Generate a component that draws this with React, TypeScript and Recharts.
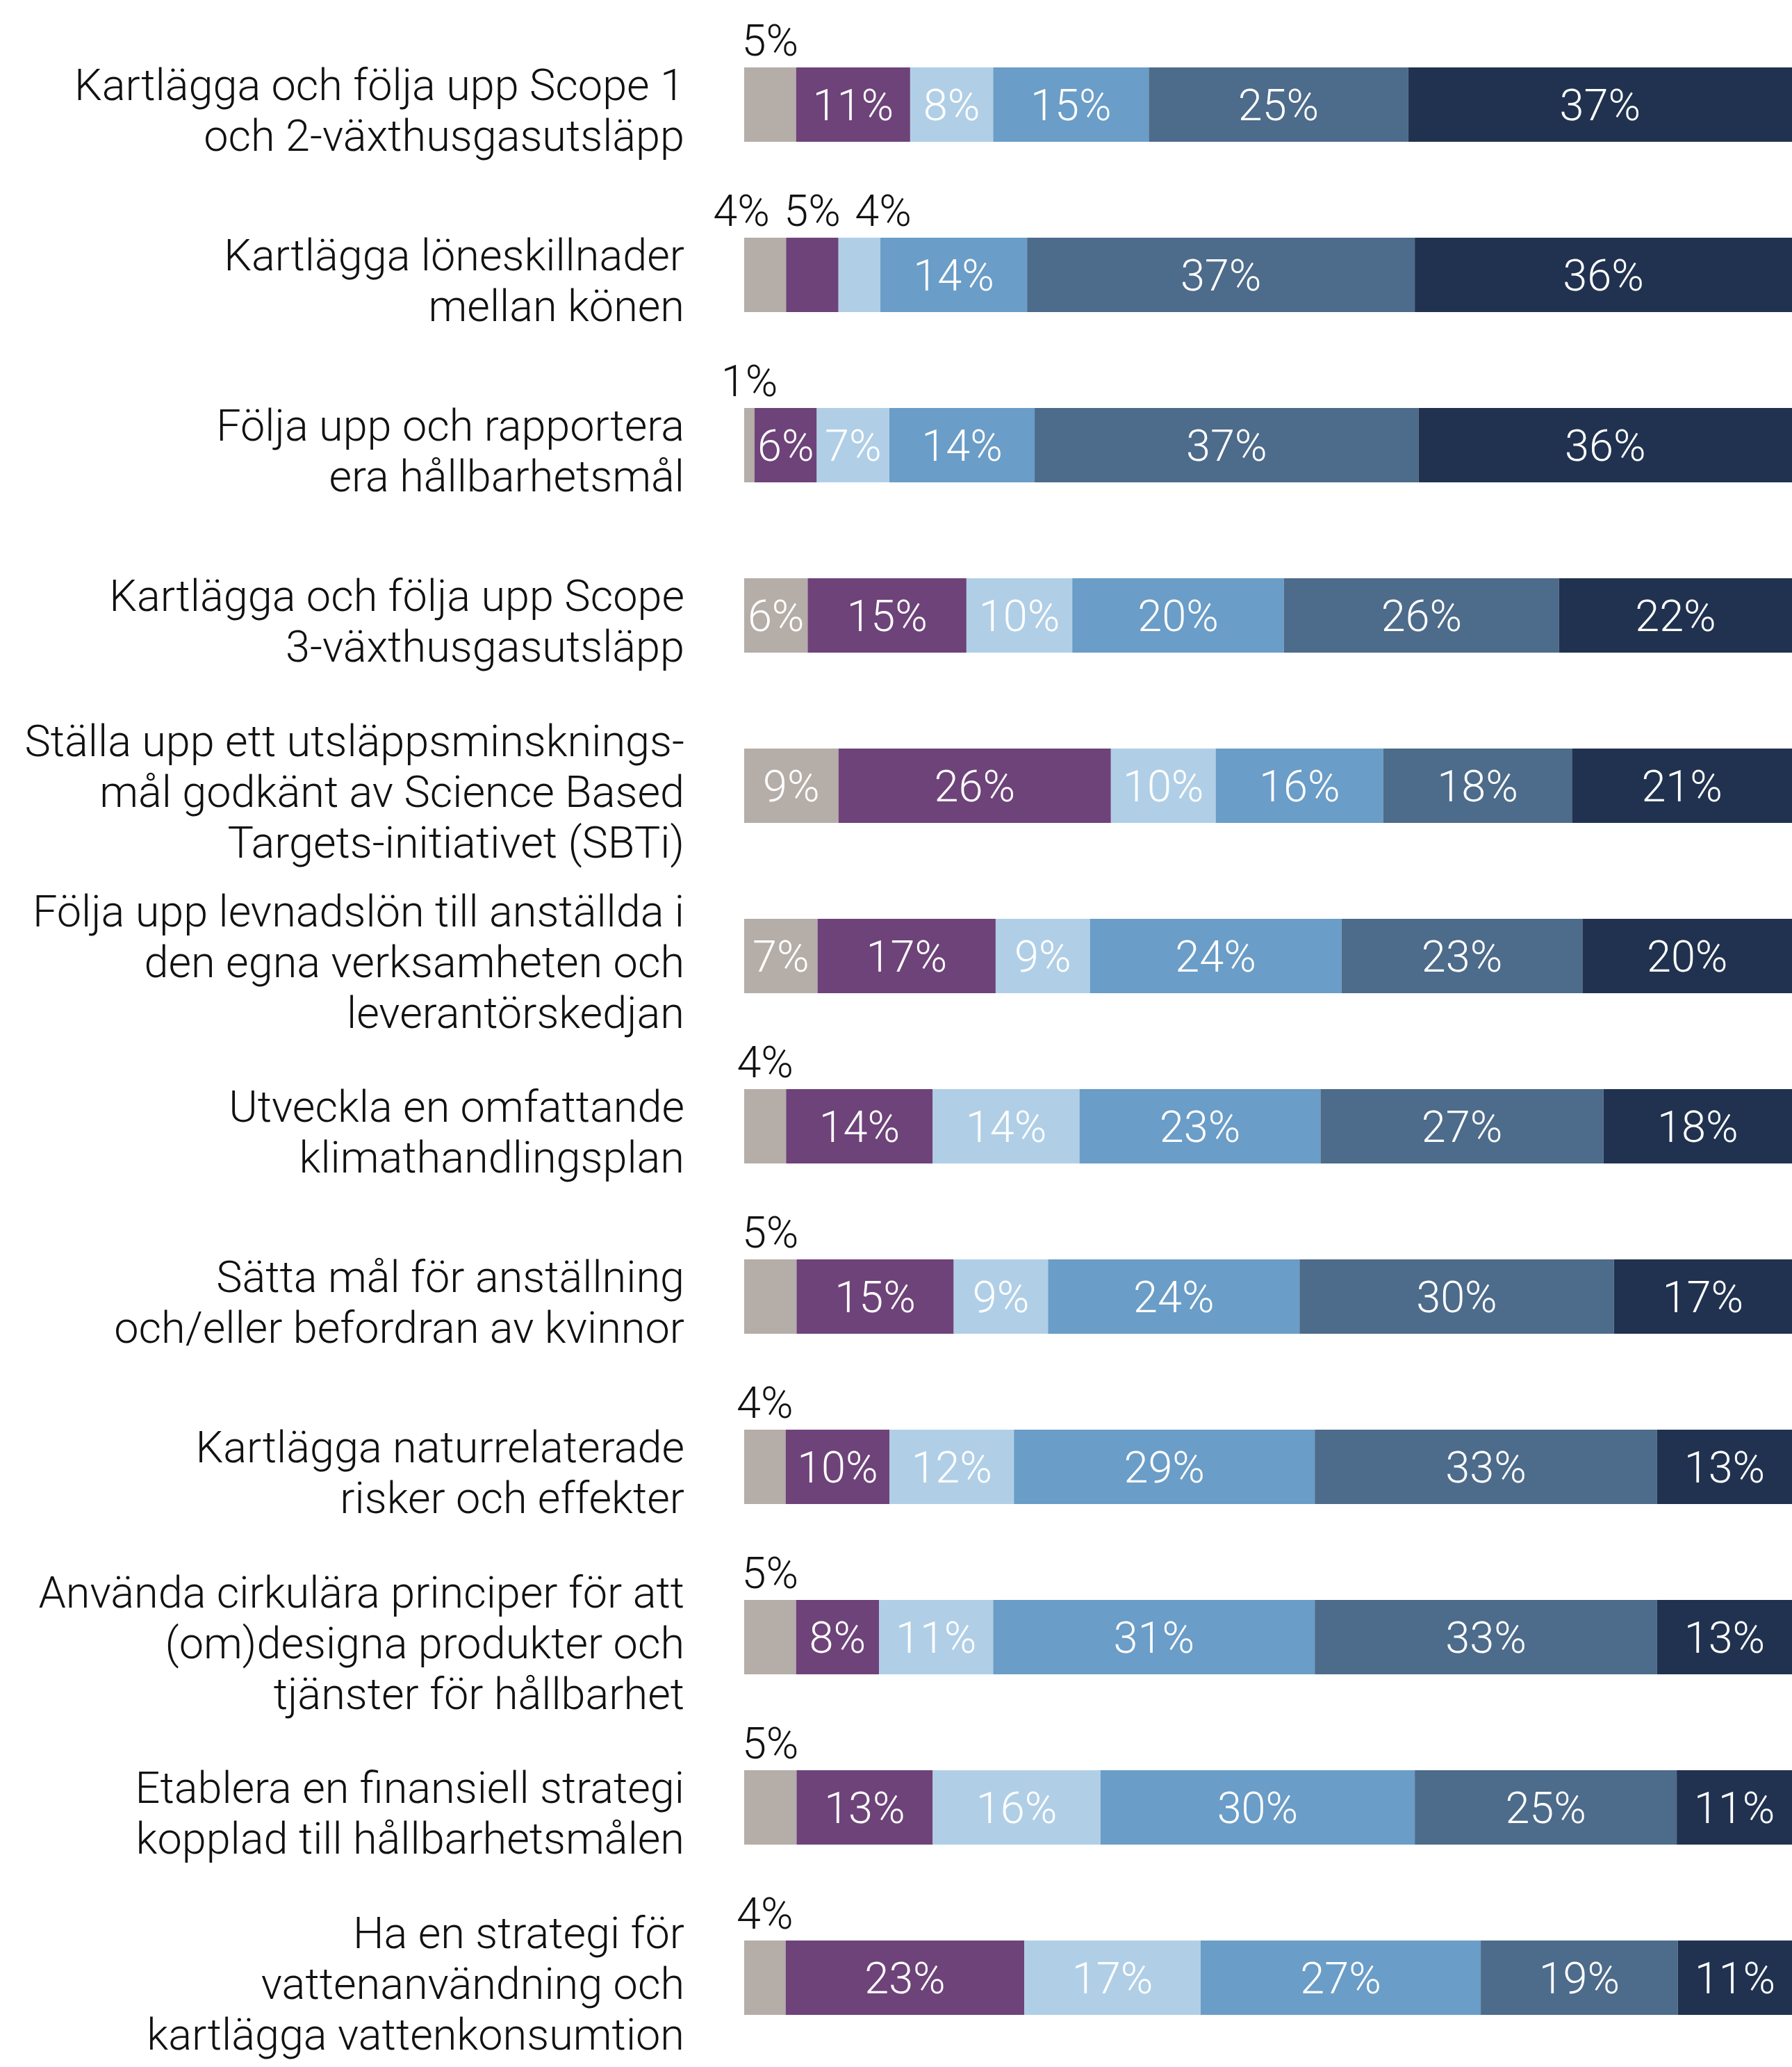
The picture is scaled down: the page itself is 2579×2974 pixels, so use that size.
import React from 'react';
import { BarChart, Bar, XAxis, YAxis, LabelList } from 'recharts';

// one entry per row, split into the lines shown in the reference
const categories: string[][] = [
  ['Kartlägga och följa upp Scope 1', 'och 2-växthusgasutsläpp'],
  ['Kartlägga löneskillnader', 'mellan könen'],
  ['Följa upp och rapportera', 'era hållbarhetsmål'],
  ['Kartlägga och följa upp Scope', '3-växthusgasutsläpp'],
  ['Ställa upp ett utsläppsminsknings-', 'mål godkänt av Science Based', 'Targets-initiativet (SBTi)'],
  ['Följa upp levnadslön till anställda i', 'den egna verksamheten och', 'leverantörskedjan'],
  ['Utveckla en omfattande', 'klimathandlingsplan'],
  ['Sätta mål för anställning', 'och/eller befordran av kvinnor'],
  ['Kartlägga naturrelaterade', 'risker och effekter'],
  ['Använda cirkulära principer för att', '(om)designa produkter och', 'tjänster för hållbarhet'],
  ['Etablera en finansiell strategi', 'kopplad till hållbarhetsmålen'],
  ['Ha en strategi för', 'vattenanvändning och', 'kartlägga vattenkonsumtion'],
];

const seg1 = [5, 4, 1, 6, 9, 7, 4, 5, 4, 5, 5, 4];
const seg2 = [11, 5, 6, 15, 26, 17, 14, 15, 10, 8, 13, 23];
const seg3 = [8, 4, 7, 10, 10, 9, 14, 9, 12, 11, 16, 17];
const seg4 = [15, 14, 14, 20, 16, 24, 23, 24, 29, 31, 30, 27];
const seg5 = [25, 37, 37, 26, 18, 23, 27, 30, 33, 33, 25, 19];
const seg6 = [37, 36, 36, 22, 21, 20, 18, 17, 13, 13, 11, 11];

const series = [seg1, seg2, seg3, seg4, seg5, seg6];
const colors = ['#b5ada8', '#6e4379', '#b0cfe6', '#6a9dc7', '#4d6b8a', '#20324f'];

const data = categories.map((lines, i) => {
  const row: any = { name: lines.join(' ') };
  series.forEach((s, k) => { row[`s${k}`] = s[i]; });
  return row;
});

const FONT = 'Roboto, "Liberation Sans", sans-serif';
const SMALL = 6; // values below this go above the bar
const MIN_GAP = 102;

// center x of a small label, spreading neighbours that would overlap
const aboveCenter = (row: number, k: number, x: number, width: number) => {
  const vals = series.map((s) => s[row]);
  const px = width / vals[k];
  let cum = 0;
  const cums = vals.map((v) => { const c = cum; cum += v; return c; });
  const left = x - cums[k] * px;
  const centers = vals.map((v, j) => left + (cums[j] + v / 2) * px);
  let a = k;
  while (a > 0 && vals[a - 1] < SMALL) a--;
  let b = k;
  while (b < vals.length - 1 && vals[b + 1] < SMALL) b++;
  if (a === b) return centers[k];
  const tooClose = centers.slice(a, b).some((c, j) => centers[a + j + 1] - c < MIN_GAP);
  if (!tooClose) return centers[k];
  const mean = centers.slice(a, b + 1).reduce((p, c) => p + c, 0) / (b - a + 1);
  return mean + (k - (a + b) / 2) * MIN_GAP;
};

const makeLabel = (k: number) => (props: any) => {
  const { x, y, width, height, index } = props;
  const v = series[k][index];
  if (v == null) return null;
  if (v < SMALL) {
    const cx = aboveCenter(index, k, x, width);
    return (
      <text x={cx} y={y - 17} textAnchor="middle" fill="#111" fontSize={63} fontWeight={300} fontFamily={FONT}>
        {`${v}%`}
      </text>
    );
  }
  return (
    <text x={x + width / 2} y={y + height / 2} dy="0.36em" textAnchor="middle" fill="#fff" fontSize={63} fontWeight={300} fontFamily={FONT}>
      {`${v}%`}
    </text>
  );
};

const CategoryTick = (props: any) => {
  const { y, index } = props;
  const lines = categories[index] || [];
  const lh = 73;
  const start = y - ((lines.length - 1) * lh) / 2 + 30;
  return (
    <text x={985} y={start} textAnchor="end" fill="#111" fontSize={63} fontWeight={300} fontFamily={FONT} dy="0.36em">
      {lines.map((l, i) => (
        <tspan key={i} x={985} dy={i === 0 ? 0 : lh}>{l}</tspan>
      ))}
    </text>
  );
};

export default function App() {
  return (
    <div style={{ position: 'absolute', left: 0, top: 0, background: '#fff' }}>
      <BarChart
        width={2579}
        height={2974}
        data={data}
        layout="vertical"
        stackOffset="expand"
        margin={{ top: 28, right: 0, bottom: 6, left: 0 }}
      >
        <XAxis type="number" hide domain={[0, 1]} />
        <YAxis
          type="category"
          dataKey="name"
          width={1071}
          axisLine={false}
          tickLine={false}
          interval={0}
          tick={<CategoryTick />}
        />
        {series.map((_, k) => (
          <Bar key={k} dataKey={`s${k}`} stackId="a" fill={colors[k]} barSize={107} isAnimationActive={false}>
            <LabelList content={makeLabel(k)} />
          </Bar>
        ))}
      </BarChart>
    </div>
  );
}
